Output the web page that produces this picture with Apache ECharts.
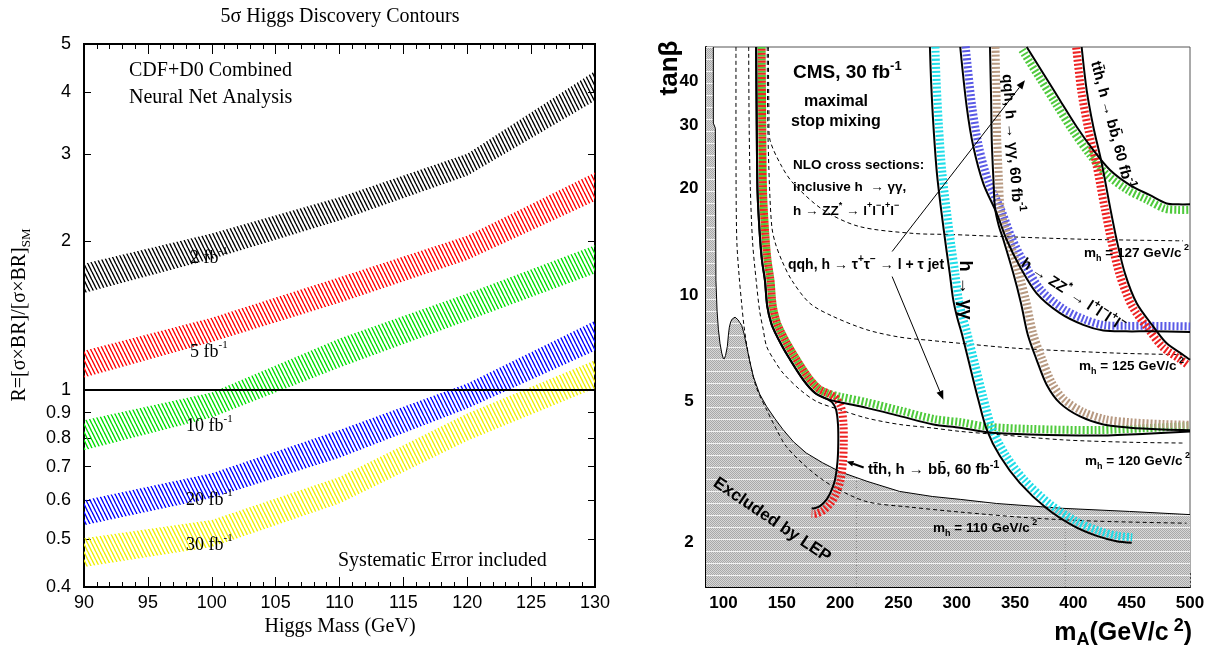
<!DOCTYPE html>
<html>
<head>
<meta charset="utf-8">
<script src="https://cdn.jsdelivr.net/npm/echarts@6.0.0/dist/echarts.min.js"></script>
<style>
html,body{margin:0;padding:0;background:#ffffff;}
#chart{width:1213px;height:650px;}
</style>
</head>
<body>
<div id="chart"></div>
<script>
// ================= LEFT PANEL DATA (R vs Higgs mass) =================
const higgsMass   = [90, 100, 110, 120, 130];
const lumi2Low    = [1.57, 1.84, 2.20, 2.71, 3.84];
const lumi2High   = [1.80, 2.07, 2.45, 3.00, 4.41];
const lumi5Low    = [1.06, 1.25, 1.50, 1.83, 2.41];
const lumi5High   = [1.20, 1.40, 1.69, 2.05, 2.75];
const lumi10Low   = [0.756, 0.88, 1.11, 1.38, 1.72];
const lumi10High  = [0.869, 0.989, 1.27, 1.566, 1.96];
const lumi20Low   = [0.533, 0.605, 0.73, 0.918, 1.20];
const lumi20High  = [0.599, 0.679, 0.83, 1.031, 1.38];
const lumi30Low   = [0.439, 0.482, 0.59, 0.79, 1.008];
const lumi30High  = [0.502, 0.546, 0.667, 0.897, 1.148];
const bandLumis   = ['2', '5', '10', '20', '30'];
const leftYTicks  = [0.4, 0.5, 0.6, 0.7, 0.8, 0.9, 1, 2, 3, 4, 5];
const unityLine   = [[90, 1], [130, 1]];

// ================= RIGHT PANEL DATA (tan beta vs mA) =================
const mAMajorTicks   = [100, 150, 200, 250, 300, 350, 400, 450, 500];
const mAMinorTicks   = [90, 110, 120, 130, 140, 160, 170, 180, 190, 210, 220, 230, 240, 260, 270, 280, 290,
                        310, 320, 330, 340, 360, 370, 380, 390, 410, 420, 430, 440, 460, 470, 480, 490];
const tanbMajorTicks = [2, 5, 10, 20, 30, 40];
const tanbMinorTicks = [1.6, 1.7, 1.8, 1.9, 3, 4, 6, 7, 8, 9];

const lepBoundary = [[85,50],[91.3,50],[91.3,30.5],[93,29.5],[93.5,11],[94.5,9],[95.6,8],[97,7.3],[98.5,6.85],
  [99.8,6.62],[100.7,6.6],[101.8,6.75],[103.3,7.15],[104.2,7.7],[105,8.1],[106.2,8.4],[107.5,8.55],[109.9,8.65],
  [112.5,8.5],[114,8.35],[115.6,8.2],[117.5,7.8],[119.9,7.15],[122.5,6.5],[125.6,5.88],[131,5.25],[137,4.84],
  [144,4.48],[151,4.17],[160,3.85],[171,3.58],[185,3.36],[200,3.17],[223,2.98],[251,2.79],[279,2.70],[303,2.65],
  [334,2.58],[391,2.50],[448,2.45],[500,2.40]];
const lepGridLine214 = [[214,1.5],[214,3.05]];
const lepGridLine393 = [[393,1.5],[393,2.5]];

const mh110 = [[110.7,50],[110.8,20],[111.5,14],[113.5,11.2],[115.5,9.5],[117.5,8.2],[120,7.2],[123,6.4],[128,5.5],
  [137,4.74],[145,4.2],[154,3.73],[174,3.21],[194,2.88],[223,2.61],[260,2.52],[303,2.44],[363,2.35],[420,2.30],[497,2.27]];
const mh120 = [[121.6,50],[122,30],[123,20],[125,14],[128,11],[131,9],[134,8],[137,7.15],[144,6.5],[151,6.02],
  [165.6,5.4],[180,5.0],[200,4.74],[223,4.49],[251,4.31],[277,4.22],[303,4.12],[334,4.04],[391,3.90],[448,3.84],[494,3.82]];
const mh125 = [[137.5,50],[138,30],[139.5,20],[141.5,15.5],[144.4,14],[150,12.5],[158.5,11],[174,9.47],[194,8.69],
  [223,7.97],[251,7.6],[277,7.44],[303,7.3],[351,7.07],[437,6.85],[494,6.78]];
const mh127 = [[138.5,50],[139,32],[139.9,27.3],[150,23],[160,20.6],[185,17.4],[216,15.6],[263,14.9],[294,14.8],
  [340,14.6],[408,14.35],[494,14.2]];

const qqhTauLower = [[128,50],[128.5,30],[129.2,19.5],[131,15],[133,12.5],[135.5,11],[137.5,9.3],[141,8.3],[144.5,7.8],
  [150,7.2],[155.6,6.69],[168.4,5.76],[178.5,5.29],[188.5,5.09],[199.9,4.98],[222.8,4.80],[251.3,4.55],[280,4.31],
  [302.8,4.22],[325.7,4.1],[362.8,4.04],[420,4.01],[463,4.06],[500,4.12]];
const tthLeft = [[128,50],[128.5,30],[129.2,19.5],[131,15],[133,12.5],[135.5,11],[137.5,9.3],[141,8.3],[144.5,7.8],
  [150,7.2],[155.6,6.69],[168.4,5.76],[178.5,5.29],[188.5,5.09],[193,4.98],[196.5,4.75],[198.2,4.3],[198.4,3.8],
  [197.8,3.4],[195.6,3.01],[192,2.78],[188.5,2.65],[183,2.54],[178,2.50],[175.6,2.50]];
const incGG = [[277,50],[278,40],[280,30],[283,22],[287,17],[291,13.5],[294,11.5],[297,9.68],[300.5,8.6],[304.2,7.8],
  [311.4,6.27],[318.5,5.06],[325.7,4.17],[337,3.51],[354,2.95],[377,2.50],[400,2.23],[420,2.09],[437,2.02],[450,2.0]];
const zz4l = [[303,50],[308.5,34],[314.2,26.2],[322.8,20.6],[334.2,17.0],[342.8,14.3],[354.2,12.0],[368.5,10.1],
  [388.5,8.88],[408.5,8.23],[425.7,7.93],[445,7.89],[465.7,7.89],[500,7.86]];
const qqhGG = [[328.5,50],[329.5,35],[330,27.3],[331.5,21],[332.8,17.6],[336,15.7],[340,14.3],[348.5,11.5],[355,9.5],
  [361,7.7],[368.5,6.56],[377.1,5.58],[388.5,4.95],[405.7,4.54],[425.7,4.31],[448.5,4.22],[477,4.17],[500,4.15]];
const qqhTauUpper = [[360,50],[374.2,42.1],[388.5,35.4],[402.8,29.8],[417.1,25.6],[431.4,22.5],[448.5,20.4],
  [465.7,19.1],[480,18.1],[490,18.0],[500,18.0]];
const tthRight = [[407.1,50],[411.4,37.8],[417.1,29.8],[424.3,23.5],[431.4,17.7],[437.1,14.3],[444.2,11.5],
  [454.3,9.47],[468.5,8.14],[480,7.3],[494,6.78],[500,6.56]];

const arrowQqhToUpper = [[244.6,13.25],[358.5,40.3]];
const arrowQqhToLower = [[244.6,11.26],[288.5,5.06]];
const arrowTthLabel   = [[220.2,3.26],[205.5,3.39]];

// ================= STYLE HELPERS =================
const SERIF  = "'Liberation Serif','Times New Roman',serif";
const SANS   = "'Liberation Sans',Arial,sans-serif";
const BOLD   = "'Liberation Sans Narrow','Arial Narrow','Liberation Sans',Arial,sans-serif";
const L = v => Math.log10(v);
const fmtLog = v => { const r = Math.pow(10, v); return r < 0.995 ? r.toFixed(1) : String(Math.round(r)); };

function hatch(color, w, h, lw) {
  const c = document.createElement('canvas'); c.width = w; c.height = h;
  const g = c.getContext('2d'); g.strokeStyle = color; g.lineWidth = lw;
  for (let k = -2; k <= 2; k++) { g.beginPath(); g.moveTo(k * w, 0); g.lineTo(k * w + w, h); g.stroke(); }
  return { image: c, repeat: 'repeat' };
}
function lepPattern() {
  const c = document.createElement('canvas'); c.width = 2; c.height = 12;
  const g = c.getContext('2d');
  g.fillStyle = '#d6d6d6'; g.fillRect(0, 0, 2, 12);
  g.fillStyle = '#a9a9a9';
  for (let y = 0; y < 11; y++) g.fillRect(y % 2, y, 1, 1);
  g.fillStyle = '#f2f2f2'; g.fillRect(0, 11, 2, 1);
  return { image: c, repeat: 'repeat' };
}
function offsetLine(p, d) {
  return p.map((q, i) => {
    const a = p[Math.max(0, i - 1)], b = p[Math.min(p.length - 1, i + 1)];
    const dx = b[0] - a[0], dy = b[1] - a[1], len = Math.hypot(dx, dy) || 1;
    return [q[0] + d * dy / len, q[1] - d * dx / len];
  });
}
function custom(xi, yi, pts, draw, z) {
  return {
    type: 'custom', coordinateSystem: 'cartesian2d', xAxisIndex: xi, yAxisIndex: yi, z: z, silent: true,
    animation: false, data: [[pts[0][0], L(pts[0][1])]],
    renderItem: (params, api) => draw(pts.map(d => api.coord([d[0], L(d[1])])))
  };
}
function arrowDraw(width, head) {
  return p => {
    const a = p[0], b = p[1], dx = b[0] - a[0], dy = b[1] - a[1], n = Math.hypot(dx, dy), ux = dx / n, uy = dy / n;
    const base = [b[0] - ux * head, b[1] - uy * head], hw = head * 0.4;
    return { type: 'group', children: [
      { type: 'line', shape: { x1: a[0], y1: a[1], x2: base[0], y2: base[1] }, style: { stroke: '#000', lineWidth: width } },
      { type: 'polygon', shape: { points: [b, [base[0] - uy * hw, base[1] + ux * hw], [base[0] + uy * hw, base[1] - ux * hw]] }, style: { fill: '#000' } }
    ] };
  };
}
function txt(x, y, text, rich, o) {
  o = o || {};
  const al = o.align || 'left';
  return { type: 'text', x: x, y: y, rotation: o.rot || 0, z: 100, silent: true,
    style: { text: text, rich: rich, align: al, verticalAlign: 'middle', textAlign: al, textVerticalAlign: 'middle', fill: '#000' } };
}

// ================= SERIES =================
const series = [];
const leftBands = [
  { lo: lumi2Low,  hi: lumi2High,  color: '#000000' },
  { lo: lumi5Low,  hi: lumi5High,  color: '#ff0000' },
  { lo: lumi10Low, hi: lumi10High, color: '#00dd00' },
  { lo: lumi20Low, hi: lumi20High, color: '#0000ff' },
  { lo: lumi30Low, hi: lumi30High, color: '#eeee00' }
];
leftBands.forEach(b => {
  const poly = higgsMass.map((m, i) => [m, b.lo[i]]).concat(higgsMass.map((m, i) => [m, b.hi[i]]).reverse());
  const pat = hatch(b.color, 4, 8, 1.4);
  series.push(custom(0, 0, poly, p => ({ type: 'polygon', shape: { points: p }, style: { fill: pat } }), 2));
});
series.push(custom(0, 0, unityLine, p => ({ type: 'polyline', shape: { points: p }, style: { stroke: '#000', lineWidth: 2, fill: 'none' } }), 3));

// Right panel: LEP excluded region
const rightFloor = 1.5;
const lepPat = lepPattern();
series.push(custom(2, 2, lepBoundary.concat([[500, rightFloor], [85, rightFloor]]),
  p => ({ type: 'polygon', shape: { points: p }, style: { fill: lepPat } }), 1));
[lepGridLine214, lepGridLine393].forEach(g => series.push(custom(2, 2, g,
  p => ({ type: 'polyline', shape: { points: p }, style: { stroke: '#8a8a8a', lineWidth: 1, lineDash: [1, 2], fill: 'none' } }), 1)));
series.push(custom(2, 2, lepBoundary.slice(1),
  p => ({ type: 'polyline', shape: { points: p }, style: { stroke: '#000', lineWidth: 1, fill: 'none' } }), 2));

// m_h dashed contours
[mh110, mh120, mh125, mh127].forEach(c => series.push(custom(2, 2, c,
  p => ({ type: 'polyline', shape: { points: p, smooth: 0.3 }, style: { stroke: '#000', lineWidth: 1, lineDash: [4, 3], fill: 'none' } }), 2)));

// discovery contours with hatched bands
const GREEN = '#4fca3c', RED = '#ee2222', CYAN = '#20dde8', BLUE = '#5a5ae6', BROWN = '#b89a82';
const contours = [
  { pts: qqhTauLower, color: GREEN, side: 1,  off: 0 },
  { pts: tthLeft,     color: RED,   side: 1,  off: 2 },
  { pts: incGG,       color: CYAN,  side: 1,  off: 0 },
  { pts: zz4l,        color: BLUE,  side: 1,  off: 0 },
  { pts: qqhGG,       color: BROWN, side: 1,  off: 0 },
  { pts: qqhTauUpper, color: GREEN, side: -1, off: 0 },
  { pts: tthRight,    color: RED,   side: -1, off: 0 }
];
contours.forEach(c => series.push(custom(2, 2, c.pts,
  p => ({ type: 'polyline', shape: { points: offsetLine(p, 5.5 * c.side), smooth: 0.3 },
          style: { stroke: c.color, lineWidth: 8, lineDash: [2, 2], lineDashOffset: c.off, fill: 'none' } }), 3)));
contours.forEach(c => series.push(custom(2, 2, c.pts,
  p => ({ type: 'polyline', shape: { points: p, smooth: 0.3 }, style: { stroke: '#000', lineWidth: 2, fill: 'none' } }), 4)));

// arrows
series.push(custom(2, 2, arrowQqhToUpper, arrowDraw(1, 9), 5));
series.push(custom(2, 2, arrowQqhToLower, arrowDraw(1, 9), 5));
series.push(custom(2, 2, arrowTthLabel, arrowDraw(2, 7), 5));

// ================= TEXT =================
const sr = (fs) => ({ n: { fontFamily: SERIF, fontSize: fs, lineHeight: fs + 6, color: '#000' },
                      s: { fontFamily: SERIF, fontSize: Math.round(fs * 0.6), verticalAlign: 'top', color: '#000' },
                      b: { fontFamily: SERIF, fontSize: Math.round(fs * 0.65), verticalAlign: 'bottom', color: '#000' } });
const br = (fs) => ({ n: { fontFamily: BOLD, fontWeight: 'bold', fontSize: fs, lineHeight: fs + 7, color: '#000' },
                      s: { fontFamily: BOLD, fontWeight: 'bold', fontSize: Math.round(fs * 0.7), verticalAlign: 'top', color: '#000' },
                      b: { fontFamily: BOLD, fontWeight: 'bold', fontSize: Math.round(fs * 0.7), verticalAlign: 'bottom', color: '#000' } });
const zzText = '{n|h → ZZ}{s|*}{n| → l}{s|+}{n|l}{s|−}{n|l}{s|+}{n|l}{s|−}';
const tthText = '{n|tt\u0304h, h → bb\u0304, 60 fb}{s|-1}';
const mhText = m => '{n|m}{b|h}{n| = ' + m + ' GeV/c}{s| 2}';

const bandLabelY = [258, 352, 426, 500, 545];
const bandLabelX = [190, 190, 186, 186, 186];
const graphics = [
  txt(340, 17, '{n|5σ Higgs Discovery Contours}', sr(20), { align: 'center' }),
  txt(129, 71, '{n|CDF+D0 Combined}', sr(20)),
  txt(129, 98, '{n|Neural Net Analysis}', sr(20)),
  txt(338, 561, '{n|Systematic Error included}', sr(20)),
  txt(340, 627, '{n|Higgs Mass (GeV)}', sr(20), { align: 'center' }),
  txt(20, 315, '{n|R=[σ×BR]/[σ×BR]}{b|SM}', sr(20), { align: 'center', rot: Math.PI / 2 }),

  txt(793, 73, '{n|CMS, 30 fb}{s|-1}', br(19)),
  txt(836, 102, '{n|maximal}', br(16), { align: 'center' }),
  txt(836, 122, '{n|stop mixing}', br(16), { align: 'center' }),
  txt(793, 165, '{n|NLO cross sections:}', br(13.5)),
  txt(793, 187, '{n|inclusive h  → γγ,}', br(13.5)),
  txt(793, 211, zzText, br(13.5)),
  txt(788, 265, '{n|qqh, h → τ}{s|+}{n|τ}{s|−}{n| → l + τ jet}', br(14)),
  txt(965, 290, '{n|h → γγ}', br(18), { align: 'center', rot: -Math.PI / 2 }),
  txt(1012, 143, '{n|qqh, h → γγ, 60 fb}{s|-1}', br(15), { align: 'center', rot: -1.492 }),
  txt(1112, 125, tthText, br(15), { align: 'center', rot: -1.309 }),
  txt(1073, 295, zzText, br(15), { align: 'center', rot: -0.579 }),
  txt(1084, 253, mhText(127), br(13.5)),
  txt(1079, 366, mhText(125), br(13.5)),
  txt(1085, 461, mhText(120), br(13.5)),
  txt(933, 528, mhText(110), br(13.5)),
  txt(868, 470, tthText, br(15)),
  txt(772, 520, '{n|Excluded by LEP}', br(17), { align: 'center', rot: -0.595 }),
  txt(670, 68, '{n|tanβ}', br(26), { align: 'center', rot: Math.PI / 2 }),
  txt(1192, 633, '{n|m}{b|A}{n|(GeV/c}{s| 2}{n|)}', br(25), { align: 'right' })
];
bandLumis.forEach((lab, i) => graphics.push(txt(bandLabelX[i], bandLabelY[i], '{n|' + lab + ' fb}{s|-1}', sr(18))));

// ================= AXES =================
const noSplit = { show: false };
const xAxes = [
  { gridIndex: 0, type: 'value', min: 90, max: 130, interval: 5, position: 'bottom',
    axisLine: { show: true, onZero: false, lineStyle: { color: '#000', width: 2 } },
    axisTick: { show: true, inside: true, length: 10, lineStyle: { color: '#000' } },
    minorTick: { show: true, splitNumber: 5, length: 5, lineStyle: { color: '#000' } },
    axisLabel: { fontFamily: SANS, fontSize: 18, color: '#000', margin: 7 },
    splitLine: noSplit, minorSplitLine: noSplit },
  { gridIndex: 0, type: 'value', min: 90, max: 130, interval: 5, position: 'top',
    axisLine: { show: true, onZero: false, lineStyle: { color: '#000', width: 2 } },
    axisTick: { show: true, inside: true, length: 10, lineStyle: { color: '#000' } },
    minorTick: { show: true, splitNumber: 5, length: 5, lineStyle: { color: '#000' } },
    axisLabel: { show: false }, splitLine: noSplit, minorSplitLine: noSplit },
  { gridIndex: 1, type: 'value', min: 85, max: 500, position: 'bottom',
    axisLine: { show: true, onZero: false, lineStyle: { color: '#000', width: 2 } },
    axisTick: { show: true, inside: true, length: 15, customValues: mAMajorTicks, lineStyle: { color: '#444', type: [2, 2] } },
    axisLabel: { customValues: mAMajorTicks, fontFamily: BOLD, fontWeight: 'bold', fontSize: 17, color: '#000', margin: 8 },
    splitLine: noSplit },
  { gridIndex: 1, type: 'value', min: 85, max: 500, position: 'bottom',
    axisLine: { show: false, onZero: false },
    axisTick: { show: true, inside: true, length: 7, customValues: mAMinorTicks, lineStyle: { color: '#555' } },
    axisLabel: { show: false }, splitLine: noSplit }
];
const yAxes = [
  { gridIndex: 0, type: 'value', min: L(0.4), max: L(5), position: 'left',
    axisLine: { show: true, onZero: false, lineStyle: { color: '#000', width: 2 } },
    axisTick: { show: true, inside: true, length: 7, customValues: leftYTicks.map(L), lineStyle: { color: '#000' } },
    axisLabel: { customValues: leftYTicks.map(L), formatter: fmtLog, fontFamily: SANS, fontSize: 18, color: '#000', margin: 13 },
    splitLine: noSplit },
  { gridIndex: 0, type: 'value', min: L(0.4), max: L(5), position: 'right',
    axisLine: { show: true, onZero: false, lineStyle: { color: '#000', width: 2 } },
    axisTick: { show: true, inside: true, length: 7, customValues: leftYTicks.map(L), lineStyle: { color: '#000' } },
    axisLabel: { show: false }, splitLine: noSplit },
  { gridIndex: 1, type: 'value', min: L(rightFloor), max: L(50), position: 'left',
    axisLine: { show: true, onZero: false, lineStyle: { color: '#000', width: 2 } },
    axisTick: { show: true, inside: true, length: 8, customValues: tanbMajorTicks.map(L), lineStyle: { color: '#000' } },
    axisLabel: { customValues: tanbMajorTicks.map(L), formatter: fmtLog, fontFamily: BOLD, fontWeight: 'bold',
                 fontSize: 17, color: '#000', margin: 17, align: 'center' },
    splitLine: noSplit },
  { gridIndex: 1, type: 'value', min: L(rightFloor), max: L(50), position: 'left',
    axisLine: { show: false, onZero: false },
    axisTick: { show: true, inside: true, length: 4, customValues: tanbMinorTicks.map(L), lineStyle: { color: '#333' } },
    axisLabel: { show: false }, splitLine: noSplit }
];

const chart = echarts.init(document.getElementById('chart'));
chart.setOption({
  animation: false,
  backgroundColor: '#ffffff',
  grid: [
    { left: 84, top: 44, width: 511, height: 543, show: true, borderColor: '#000', borderWidth: 2 },
    { left: 706, top: 47, width: 484, height: 540, show: true, borderColor: '#555', borderWidth: 1 }
  ],
  xAxis: xAxes,
  yAxis: yAxes,
  series: series,
  graphic: graphics
});
</script>
</body>
</html>
